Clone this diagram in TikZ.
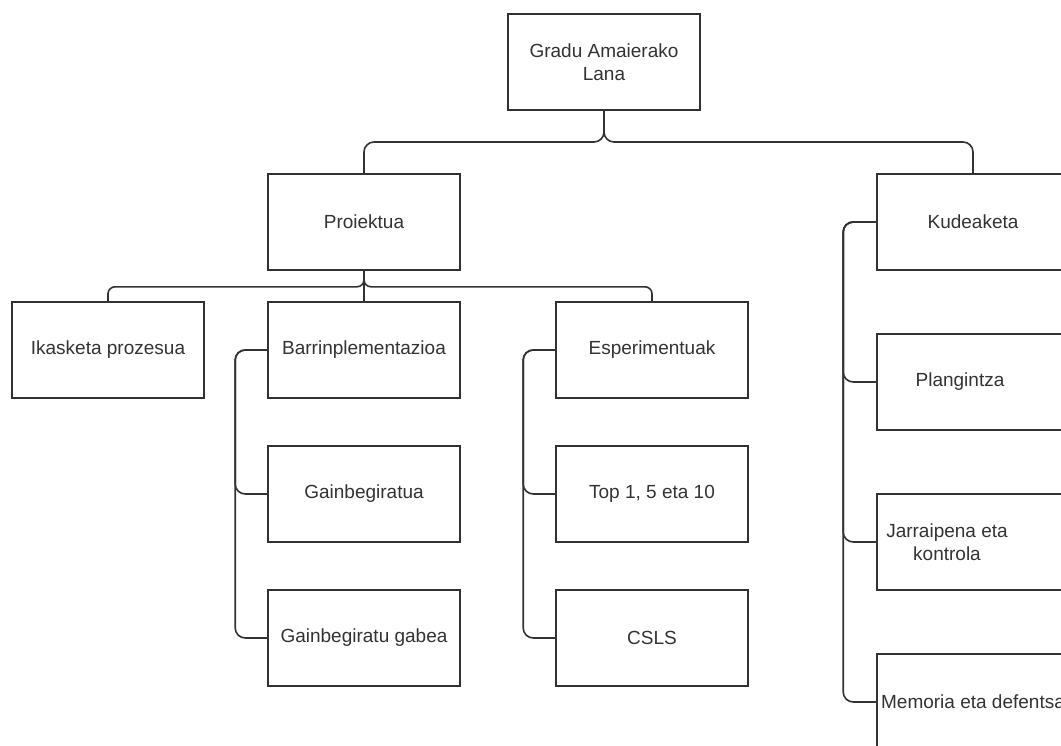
\documentclass[tikz,border=0pt]{standalone}
\usepackage{fontspec}
\setmainfont{Liberation Sans}
\definecolor{ink}{HTML}{333333}
\begin{document}
\begin{tikzpicture}[x=1pt,y=-1pt,
  box/.style={draw=ink, line width=1.6pt, fill=white, minimum width=192pt, minimum height=96pt,
    inner sep=2pt, align=center, text=ink, font=\fontsize{19}{23}\selectfont},
  offtext/.style={label={[text=ink, align=center, font=\fontsize{19}{23}\selectfont, xshift=#1]center:}},
  link/.style={draw=ink, line width=1.6pt, rounded corners=10pt},
  shortlink/.style={draw=ink, line width=1.6pt, rounded corners=7pt}]
\clip (0,0) rectangle (1061,745);
\fill[white] (0,0) rectangle (1061,745);

% bus level under the root
\coordinate (rootbus) at (604,142);

% connectors from the root
\draw[link] (604,110) -- (rootbus) -| (364,174);
\draw[link] (604,110) -- (rootbus) -| (973,174);

% boxes
\node[box] (root) at (604,62) {Gradu Amaierako\\Lana};
\node[box] (proj) at (364,222) {Proiektua};
\node[box] (kud) at (973,222) {Kudeaketa};

\node[box] (ikas) at (108,350) {Ikasketa prozesua};
\node[box] (barr) at (364,350) {Barrinplementazioa};
\node[box] (esp) at (652,350) {Esperimentuak};

\node[box] (gain) at (364,494) {Gainbegiratua};
\node[box] (gabea) at (364,638) {Gainbegiratu gabea};
\node[box] (top) at (652,494) {Top 1, 5 eta 10};
\node[box] (csls) at (652,638) {CSLS};

% right column: labels sit left of the box centre
\node[box, label={[text=ink, font=\fontsize{19}{23}\selectfont, xshift=-13pt]center:Plangintza}] (plan) at (973,382) {};
\node[box, label={[text=ink, align=center, font=\fontsize{19}{23}\selectfont, xshift=-26pt]center:Jarraipena eta\\kontrola}] (jarr) at (973,542) {};
\node[box] (mem) at (973,702) {Memoria eta defentsa};

% project children
\draw[shortlink] (proj.south) -- ++(0,16) -| (ikas.north);
\draw[shortlink] (proj.south) -- ++(0,16) -| (esp.north);
\draw[link] (proj.south) -- (barr.north);

% side branches
\draw[link] (barr.west) -- ++(-32,0) |- (gain.west);
\draw[link] (barr.west) -- ++(-32,0) |- (gabea.west);
\draw[link] (esp.west) -- ++(-32,0) |- (top.west);
\draw[link] (esp.west) -- ++(-32,0) |- (csls.west);
\draw[link] (kud.west) -- ++(-33,0) |- (plan.west);
\draw[link] (kud.west) -- ++(-33,0) |- (jarr.west);
\draw[link] (kud.west) -- ++(-33,0) |- (mem.west);
\end{tikzpicture}
\end{document}
